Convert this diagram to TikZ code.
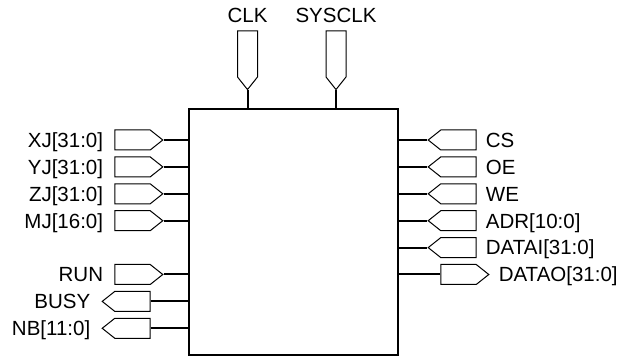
\documentclass[tikz,border=0pt]{standalone}
\usepackage{fontspec}
\setmainfont{Liberation Sans}
\usetikzlibrary{positioning, shapes.symbols}

\begin{document}
\begin{tikzpicture}[x=1pt, y=-1pt, node distance=10pt,
      blk/.style={draw, line width=2pt, inner sep=0pt,
                  minimum width=209pt, minimum height=246pt},
      port/.style={draw, signal, signal pointer angle=77, inner sep=0pt,
                   minimum width=48pt, minimum height=20pt, line width=1pt},
      iport/.style={port, signal to=east},
      oport/.style={port, signal to=west},
      cport/.style={port, signal to=south, minimum width=20pt, minimum height=46pt},
      lbl/.style={inner sep=0pt, text height=14.7pt, text depth=0pt,
                  font=\fontsize{20.5}{24}\selectfont},
      wire/.style={line width=2pt}]
    \useasboundingbox (0,0) rectangle (641,358);
    \node[blk] (core) at (293.5,232.5) {};
    % top
    \node[cport] (clk)    at (247.5,54) {};
    \node[cport] (sysclk) at (336,54)   {};
    \node[lbl, above=8pt of clk]    (lclk)    {CLK};
    \node[lbl, above=8pt of sysclk] (lsysclk) {SYSCLK};
    % left
    \node[iport] (xj)   at (132.5,140)   {};
    \node[iport] (yj)   at (132.5,166.9) {};
    \node[iport] (zj)   at (132.5,193.8) {};
    \node[iport] (mj)   at (132.5,220.7) {};
    \node[iport] (run)  at (132.5,274.5) {};
    \node[oport] (busy) at (132.5,301.4) {};
    \node[oport] (nb)   at (132.5,328.3) {};
    \node[lbl, left=11pt of xj]   (lxj)   {XJ[31:0]};
    \node[lbl, left=11pt of yj]   (lyj)   {YJ[31:0]};
    \node[lbl, left=11pt of zj]   (lzj)   {ZJ[31:0]};
    \node[lbl, left=11pt of mj]   (lmj)   {MJ[16:0]};
    \node[lbl, left=11pt of run]  (lrun)  {RUN};
    \node[lbl, left=11pt of busy] (lbusy) {BUSY};
    \node[lbl, left=11pt of nb]   (lnb)   {NB[11:0]};
    % right
    \node[oport] (cs)    at (458.5,140)   {};
    \node[oport] (oe)    at (458.5,166.9) {};
    \node[oport] (we)    at (458.5,193.8) {};
    \node[oport] (adr)   at (458.5,220.7) {};
    \node[oport] (datai) at (458.5,247.6) {};
    \node[iport] (datao) at (458.5,274.5) {};
    \node[lbl, right=9pt of cs]    (lcs)    {CS};
    \node[lbl, right=9pt of oe]    (loe)    {OE};
    \node[lbl, right=9pt of we]    (lwe)    {WE};
    \node[lbl, right=9pt of adr]   (ladr)   {ADR[10:0]};
    \node[lbl, right=9pt of datai] (ldatai) {DATAI[31:0]};
    \node[lbl, right=9pt of datao] (ldatao) {DATAO[31:0]};
    % wires
    \draw[wire] (clk.south)    -- (clk.south |- core.north);
    \draw[wire] (sysclk.south) -- (sysclk.south |- core.north);
    \draw[wire] (xj.east)   -- (xj.east -| core.west);
    \draw[wire] (yj.east)   -- (yj.east -| core.west);
    \draw[wire] (zj.east)   -- (zj.east -| core.west);
    \draw[wire] (mj.east)   -- (mj.east -| core.west);
    \draw[wire] (run.east)  -- (run.east -| core.west);
    \draw[wire] (busy.east) -- (busy.east -| core.west);
    \draw[wire] (nb.east)   -- (nb.east -| core.west);
    \draw[wire] (cs.west)    -- (cs.west -| core.east);
    \draw[wire] (oe.west)    -- (oe.west -| core.east);
    \draw[wire] (we.west)    -- (we.west -| core.east);
    \draw[wire] (adr.west)   -- (adr.west -| core.east);
    \draw[wire] (datai.west) -- (datai.west -| core.east);
    \draw[wire] (datao.west) -- (datao.west -| core.east);
  \end{tikzpicture}
\end{document}
